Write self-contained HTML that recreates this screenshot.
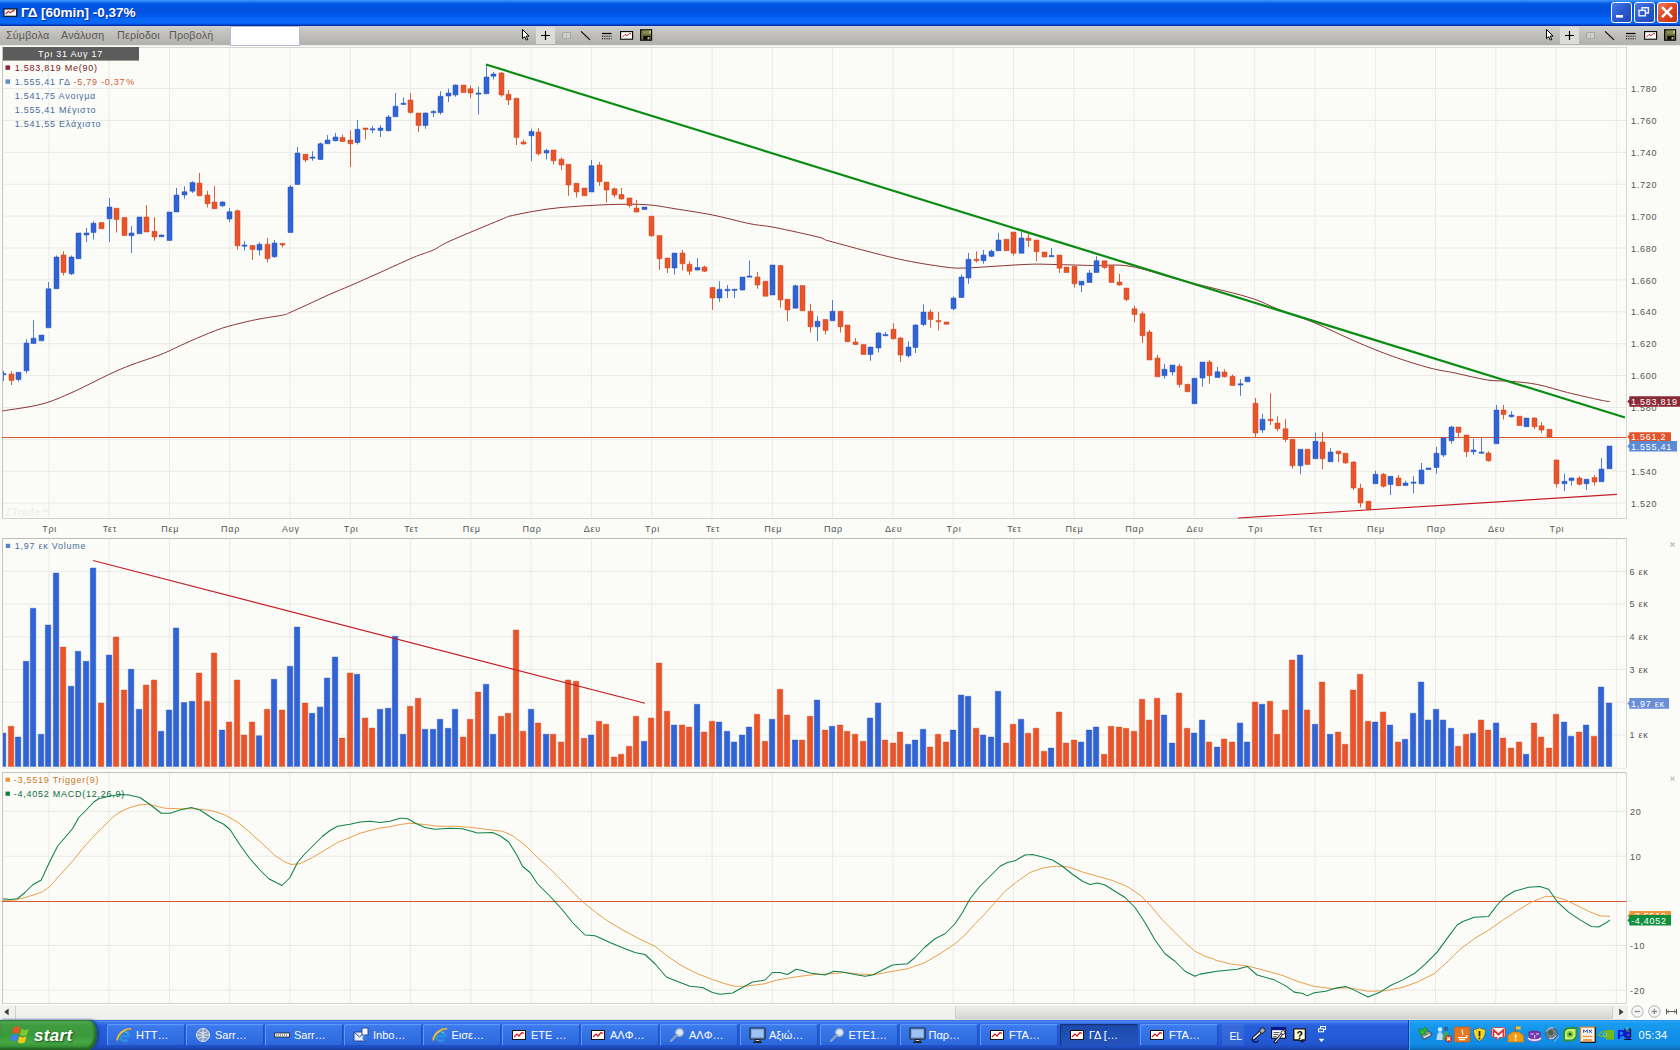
<!DOCTYPE html>
<html lang="el"><head><meta charset="utf-8"><title>ΓΔ [60min] -0,37%</title>
<style>
html,body{margin:0;padding:0}
body{width:1680px;height:1050px;overflow:hidden;position:relative;background:#fbfbf8;font-family:"Liberation Sans","DejaVu Sans",sans-serif}
.abs{position:absolute}
#title{left:0;top:0;width:1680px;height:26px;background:linear-gradient(#3c98fc 0,#2e84f6 5%,#0c62ea 11%,#0055e3 18%,#0052e0 48%,#005cf0 62%,#0868fa 76%,#0769fa 89%,#0452da 93%,#0232ac 97%,#0230a8 100%)}
#title .txt{left:21px;top:4px;color:#fff;font-weight:bold;font-size:13.600px;letter-spacing:-.050px;line-height:18px;white-space:nowrap;text-shadow:1px 1px 0 #0a2c8c}
.tb{top:2px;width:21px;height:21px;box-sizing:border-box;border:1px solid #fff;border-radius:3px;background:linear-gradient(135deg,#4a7ae8,#2a58d0 50%,#2048b8)}
#menu{left:0;top:26px;width:1680px;height:20px;background:linear-gradient(#d2d2dc 0,#cbcbcc 6%,#c4c3c1 30%,#bdbbb7 55%,#b4b2ae 92%,#b8b7b3 95%,#e9e9e7 96%,#e9e9e7 100%);box-sizing:border-box}
#menu span{position:absolute;top:2px;font-size:10.700px;line-height:14px;color:#595959;letter-spacing:.2px;white-space:nowrap}
#inp{left:230px;top:26px;width:70px;height:20px;background:#fff;border:1px solid #b4bcd4;box-sizing:border-box}
#scroll{left:0;top:1005px;width:1680px;height:15px;background:#fbfbf8}
#taskbar{left:0;top:1020px;width:1680px;height:30px;background:linear-gradient(#3168d5 0,#4c8af2 4%,#3a76ea 9%,#2860dc 18%,#245cd8 50%,#2256d0 80%,#1c48b8 94%,#16389a 100%)}
.ti{top:4px;width:78px;height:22px;border-radius:2px;background:linear-gradient(#4a8af4 0,#3a78ec 12%,#3270e4 60%,#2c66d8 100%);box-shadow:inset 1px 1px 0 #5c98f8,inset -1px -1px 0 #2050c0;color:#fff;font-size:11px;line-height:23px;white-space:nowrap;overflow:hidden}
.ti.act{background:linear-gradient(#1c48a8,#2050b4 50%,#2454bc);box-shadow:inset 1px 1px 1px #12306c}
.ti span{position:absolute;left:29px;top:0}
.ti svg{position:absolute;left:9px;top:3px}
#start{left:0;top:0;width:97px;height:30px;border-radius:0 9px 9px 0/0 14px 16px 0;background:linear-gradient(#2e7a2e 0,#4ea84e 7%,#3f9c3f 18%,#3c983c 50%,#44a844 74%,#3a983a 88%,#2c7a2c 100%);box-shadow:inset -2px -2px 3px #1e601e,2px 0 3px #1a3c90}
#start span{position:absolute;left:34px;top:5px;color:#fff;font-style:italic;font-weight:bold;font-size:17px;line-height:22px;text-shadow:1px 1px 2px #1a4a1a;letter-spacing:.3px}
#tray{left:1408px;top:0;width:272px;height:30px;background:linear-gradient(#1a88e0 0,#2aa4f6 5%,#189cf0 12%,#1290e8 50%,#108ce4 80%,#0e78cc 94%,#0c60a8 100%);border-left:1px solid #0a3c98;box-sizing:border-box;box-shadow:inset 1px 0 0 #3ab4fa}
#clock{left:1638.500px;top:8px;color:#fff;font-size:11px;line-height:14px;letter-spacing:.3px}
svg text{font-family:"Liberation Sans","DejaVu Sans",sans-serif}
</style></head><body>
<svg class="abs" style="left:0;top:0" width="1680" height="1050" viewBox="0 0 1680 1050">
<path d="M48.86 46V518.5M109.15 46V518.5M169.44 46V518.5M229.73 46V518.5M290.02 46V518.5M350.31 46V518.5M410.6 46V518.5M470.89 46V518.5M531.18 46V518.5M591.47 46V518.5M651.76 46V518.5M712.05 46V518.5M772.34 46V518.5M832.63 46V518.5M892.92 46V518.5M953.21 46V518.5M1013.5 46V518.5M1073.79 46V518.5M1134.08 46V518.5M1194.37 46V518.5M1254.66 46V518.5M1314.95 46V518.5M1375.24 46V518.5M1435.53 46V518.5M1495.82 46V518.5M1556.11 46V518.5M1616.4 46V518.5M2 88.57H1626.5M2 120.46H1626.5M2 152.35H1626.5M2 184.24H1626.5M2 216.13H1626.5M2 248.02H1626.5M2 279.91H1626.5M2 311.8H1626.5M2 343.69H1626.5M2 375.58H1626.5M2 407.47H1626.5M2 439.36H1626.5M2 471.25H1626.5M2 503.14H1626.5" stroke="#eaeae6" stroke-width="1" fill="none"/>
<path d="M48.86 538.5V767.5M109.15 538.5V767.5M169.44 538.5V767.5M229.73 538.5V767.5M290.02 538.5V767.5M350.31 538.5V767.5M410.6 538.5V767.5M470.89 538.5V767.5M531.18 538.5V767.5M591.47 538.5V767.5M651.76 538.5V767.5M712.05 538.5V767.5M772.34 538.5V767.5M832.63 538.5V767.5M892.92 538.5V767.5M953.21 538.5V767.5M1013.5 538.5V767.5M1073.79 538.5V767.5M1134.08 538.5V767.5M1194.37 538.5V767.5M1254.66 538.5V767.5M1314.95 538.5V767.5M1375.24 538.5V767.5M1435.53 538.5V767.5M1495.82 538.5V767.5M1556.11 538.5V767.5M1616.4 538.5V767.5M2 735H1626.5M2 702.25H1626.5M2 669.5H1626.5M2 636.75H1626.5M2 604H1626.5M2 571.25H1626.5" stroke="#eaeae6" stroke-width="1" fill="none"/>
<path d="M48.86 772.5V1003.5M109.15 772.5V1003.5M169.44 772.5V1003.5M229.73 772.5V1003.5M290.02 772.5V1003.5M350.31 772.5V1003.5M410.6 772.5V1003.5M470.89 772.5V1003.5M531.18 772.5V1003.5M591.47 772.5V1003.5M651.76 772.5V1003.5M712.05 772.5V1003.5M772.34 772.5V1003.5M832.63 772.5V1003.5M892.92 772.5V1003.5M953.21 772.5V1003.5M1013.5 772.5V1003.5M1073.79 772.5V1003.5M1134.08 772.5V1003.5M1194.37 772.5V1003.5M1254.66 772.5V1003.5M1314.95 772.5V1003.5M1375.24 772.5V1003.5M1435.53 772.5V1003.5M1495.82 772.5V1003.5M1556.11 772.5V1003.5M1616.4 772.5V1003.5M2 811.25H1626.5M2 856.25H1626.5M2 945.5H1626.5M2 990H1626.5" stroke="#eaeae6" stroke-width="1" fill="none"/>
<path d="M2 47.5H1626.5" stroke="#d8d8d4" stroke-width="1" fill="none"/>
<path d="M2.5 46V518.5M2.5 538.5V767.5M2.5 772.5V1003.5" stroke="#c4c4c0" stroke-width="1" fill="none"/>
<path d="M2 518.5H1626.5" stroke="#d0d0cc" stroke-width="1" fill="none"/>
<path d="M2 538.5H1626.5" stroke="#bcbcb8" stroke-width="1" fill="none"/>
<path d="M2 768.5H1626.5" stroke="#ededea" stroke-width="1" fill="none"/>
<path d="M2 772.5H1626.5" stroke="#c2c2be" stroke-width="1" fill="none"/>
<path d="M2 1003.5H1626.5" stroke="#d6d6d2" stroke-width="1" fill="none"/>
<path d="M1626.5 46V518.5M1626.5 538.5V767.5M1626.5 772.5V1003.5" stroke="#d6d6d2" stroke-width="1" fill="none"/>
<path d="M2 437.5H1626.5" stroke="#d9582c" stroke-width="1.2" fill="none"/>
<path d="M2.3 411C8.92 409.83 30.22 407.17 42 404C53.78 400.83 60 397.77 73 392C86 386.23 105.5 375.6 120 369.4C134.5 363.2 150 358.73 160 354.8C170 350.87 173.88 348.55 180 345.8C186.12 343.05 189.75 341.22 196.7 338.3C203.65 335.38 213.37 331.07 221.7 328.3C230.03 325.53 239.77 323.37 246.7 321.7C253.63 320.03 257.2 319.42 263.3 318.3C269.4 317.18 278.85 315.97 283.3 315C287.75 314.03 286.1 314.17 290 312.5C293.9 310.83 300.03 308.05 306.7 305C313.37 301.95 322.78 297.4 330 294.2C337.22 291 341.67 289.42 350 285.8C358.33 282.18 369.45 277.22 380 272.5C390.55 267.78 404.42 261.25 413.3 257.5C422.18 253.75 427.18 252.75 433.3 250C439.42 247.25 438.88 246 450 241C461.12 236 489.58 224.25 500 220C510.42 215.75 504.17 217.38 512.5 215.5C520.83 213.62 537.08 210.42 550 208.75C562.92 207.08 577.5 206.25 590 205.5C602.5 204.75 615 204.33 625 204.25C635 204.17 641.67 204.25 650 205C658.33 205.75 664.58 207.08 675 208.75C685.42 210.42 700 212.5 712.5 215C725 217.5 739.58 221.67 750 223.75C760.42 225.83 763.33 225.21 775 227.5C786.67 229.79 810.83 235.21 820 237.5C829.17 239.79 817.08 237.71 830 241.25C842.92 244.79 878.33 254.46 897.5 258.75C916.67 263.04 933.75 265.46 945 267C956.25 268.54 956.67 268.12 965 268C973.33 267.88 984.17 266.88 995 266.25C1005.83 265.62 1020 264.54 1030 264.25C1040 263.96 1044.58 264.29 1055 264.5C1065.42 264.71 1080 265.21 1092.5 265.5C1105 265.79 1115.42 263.83 1130 266.25C1144.58 268.67 1160.42 274.88 1180 280C1199.58 285.12 1230.83 292 1247.5 297C1264.17 302 1268.75 305.67 1280 310C1291.25 314.33 1302.5 317.79 1315 323C1327.5 328.21 1342.08 335.71 1355 341.25C1367.92 346.79 1380 351.79 1392.5 356.25C1405 360.71 1419.58 365.21 1430 368C1440.42 370.79 1445.42 371 1455 373C1464.58 375 1478.33 378.62 1487.5 380C1496.67 381.38 1501.67 380.5 1510 381.25C1518.33 382 1527.92 382.62 1537.5 384.5C1547.08 386.38 1557.08 389.92 1567.5 392.5C1577.92 395.08 1592.92 398.48 1600 400C1607.08 401.52 1608.33 401.33 1610 401.6" stroke="#8c3434" stroke-width="1" fill="none"/>
<clipPath id="cl"><rect x="3" y="40" width="1624" height="970"/></clipPath><g clip-path="url(#cl)">
<path d="M3.5 371V381M18.5 372.3V381.6M26.5 339.2V373.5M33.5 320.2V343.5M41.5 335V340.8M48.5 282V327.75M56.5 255.5V288.75M71.5 255.5V275M78.5 233V258.75M86.5 228V242M93.5 221.25V239.5M109.5 198V242M131.5 226.25V253M139.5 217V233.75M161.5 234.5V237M169.5 212V240.5M176.5 188V212M184.5 186.25V198.75M192.5 181.25V193M222.5 201.25V207M229.5 208V222M244.5 241.25V250.5M259.5 242.5V255.5M274.5 240V258M290.5 185V232.5M297.5 147V184.5M312.5 151.25V160.75M320.5 142.5V160M327.5 135V143.75M335.5 133V141.25M357.5 120V144.5M372.5 125.75V133M380.5 125V137M388.5 115V131.25M395.5 93V117M403.5 97.5V104.5M425.5 112.5V128.75M433.5 110V117M440.5 91.25V114.5M448.5 88.75V102M455.5 84.5V96.75M478.5 86.75V114.5M486.5 64.5V93.75M493.5 72V79.5M531.5 128.75V161.25M546.5 148.75V159.5M591.5 160V192M644.5 207V209.5M674.5 253V274.5M697.5 258V270.5M719.5 281.25V302M727.5 285V298M734.5 288.75V298M742.5 277V290.5M749.5 260.5V277M772.5 265V295M795.5 284.5V308.25M817.5 316.25V341.25M832.5 300V320.75M870.5 347V360.75M878.5 332V352.5M885.5 332V336.25M908.5 341.25V357.5M915.5 324.25V353M923.5 304.25V326.25M953.5 296.25V310.5M961.5 274.5V298M968.5 253V283.75M983.5 250V263.75M991.5 249.5V257M998.5 233V250.75M1021.5 232V253.25M1051.5 248V256.75M1081.5 281.25V292M1089.5 270V282.5M1096.5 256.25V272.5M1164.5 363.75V378.75M1172.5 365V375.5M1194.5 378.25V403.75M1202.5 362V386.75M1217.5 367V378M1240.5 379.25V395.75M1247.5 377V381.75M1262.5 413.75V433M1300.5 449.25V474.25M1315.5 432.5V458.75M1330.5 448.25V462M1375.5 470.75V483.75M1390.5 476.25V495M1405.5 480.75V485.5M1413.5 476.25V493.25M1421.5 463V484.5M1428.5 468V469.5M1436.5 446.75V473.75M1443.5 438V457M1451.5 425.75V443.75M1473.5 438.75V455M1481.5 437.5V453.75M1496.5 405V443.75M1511.5 411.25V417.5M1526.5 418V426.75M1564.5 473.75V491.25M1571.5 477.5V485.5M1586.5 479.25V490M1601.5 458V481.7M1609.5 446V468.8" stroke="#4f7ed0" stroke-width="1" fill="none"/>
<path d="M11.5 371.2V385M63.5 251.25V275.5M101.5 222.5V228.75M116.5 208.25V232.5M124.5 217.5V235.5M146.5 205V232M154.5 217V240.75M199.5 173V196.25M207.5 190.75V207.5M214.5 185.75V208.75M237.5 209.5V249.5M252.5 245V260M267.5 238V262.5M282.5 243V247.5M305.5 154.25V162M342.5 134.5V142M350.5 130.5V167M365.5 128V139.5M410.5 93V113.75M418.5 113V132M463.5 85V92.5M470.5 85.5V98M501.5 72V96.75M508.5 90V105M516.5 98.25V145M523.5 139.5V144.5M538.5 128.25V155.5M553.5 150V164.5M561.5 157.5V170M568.5 164.25V195.75M576.5 183.25V197.5M584.5 188V195.75M599.5 162V185.75M606.5 182V202.5M614.5 187.5V197.5M621.5 188V199.5M629.5 197.5V207.5M636.5 200V212.5M651.5 216.25V237M659.5 235.5V270M667.5 258V273M682.5 250V270.5M689.5 261.25V275M704.5 265.5V272M712.5 287.5V310M757.5 272V288.75M765.5 281.25V296.25M780.5 265V307.5M787.5 299.25V321.25M802.5 285.5V310.75M810.5 303.75V332.5M825.5 319.5V334.5M840.5 311.25V332.5M847.5 325V341.75M855.5 338V345M863.5 344.5V354.5M893.5 323.25V339.5M900.5 337V362M930.5 309.5V327.5M938.5 312V330.5M946.5 322V324.25M976.5 251.25V262.5M1006.5 239.25V250.75M1013.5 232V255.5M1028.5 233.75V247M1036.5 240V261.25M1044.5 252V257M1059.5 255V273M1066.5 267V272.5M1074.5 266.25V287.5M1104.5 260.75V268.75M1111.5 265.5V282.5M1119.5 273.75V285.75M1126.5 288V301.25M1134.5 305.75V322M1142.5 311.25V343M1149.5 330V360M1157.5 355V376.75M1179.5 363.75V387.5M1187.5 384.25V391.75M1209.5 360V383.75M1224.5 369.25V377.5M1232.5 374.5V385.75M1255.5 398V437M1270.5 393.25V425M1277.5 416.25V431.25M1285.5 419.25V442M1292.5 439.25V468.75M1307.5 449.25V464.5M1322.5 432V469.25M1338.5 450.5V462M1345.5 453.25V463.75M1353.5 461.25V490M1360.5 483.75V507.5M1368.5 501.25V509.25M1383.5 473V487.5M1398.5 475V486.25M1458.5 427V437M1466.5 435V457M1488.5 451.25V461.75M1503.5 405V419.5M1519.5 416.25V425.5M1534.5 417V429.25M1541.5 422V433M1549.5 429.25V437M1556.5 459.5V487.5M1579.5 476.25V485.5M1594.5 475V485.5" stroke="#d8603a" stroke-width="1" fill="none"/>
<path d="M1 373.5h5v1.2h-5zM16 372.3h5v7.3h-5zM24 343h5v27.8h-5zM31 338.2h5v5.3h-5zM39 335h5v5.8h-5zM46 288.75h5v39h-5zM54 257h5v31.75h-5zM69 257h5v16.75h-5zM76 233h5v25.75h-5zM84 233h5v2h-5zM91 223.25h5v9.25h-5zM107 207h5v11.75h-5zM129 233h5v2.75h-5zM137 217h5v16.75h-5zM159 235h5v1.75h-5zM167 212h5v28.5h-5zM174 195h5v17h-5zM182 191.75h5v3.25h-5zM190 182.5h5v8.75h-5zM220 202h5v3.75h-5zM227 211.75h5v7.25h-5zM242 245h5v1.25h-5zM257 244.25h5v5.75h-5zM272 243h5v13.75h-5zM288 187h5v45.5h-5zM295 153h5v31.5h-5zM310 157h5v1.25h-5zM318 143.75h5v15.75h-5zM325 140h5v3.75h-5zM333 137h5v3.75h-5zM355 129.25h5v13.25h-5zM370 128.75h5v1.2h-5zM378 128h5v2.5h-5zM386 117h5v13.75h-5zM393 106.25h5v10.5h-5zM401 103.25h5v1.2h-5zM423 113h5v12.5h-5zM431 111.5h5v1.25h-5zM438 96.25h5v16.25h-5zM446 93h5v3h-5zM453 85h5v10h-5zM476 93h5v1.2h-5zM484 77h5v16.75h-5zM491 74h5v2.25h-5zM529 131.5h5v4.25h-5zM544 150.5h5v2.5h-5zM589 165.75h5v26.25h-5zM642 207h5v2.5h-5zM672 253h5v15h-5zM695 267.5h5v2.5h-5zM717 289.25h5v8.75h-5zM725 289.25h5v1.5h-5zM732 289.25h5v1.2h-5zM740 277h5v13h-5zM747 276h5v1.2h-5zM770 265h5v30h-5zM793 285.75h5v22.5h-5zM815 321.25h5v5.5h-5zM830 311.25h5v9.5h-5zM868 347h5v7.5h-5zM876 333h5v15h-5zM883 334.5h5v1.25h-5zM906 347h5v8.75h-5zM913 325h5v22.5h-5zM921 312h5v12.5h-5zM951 298h5v10.75h-5zM959 277h5v20.5h-5zM966 259.25h5v18.75h-5zM981 255h5v5.75h-5zM989 251.25h5v5h-5zM996 240h5v10.75h-5zM1019 238h5v15.25h-5zM1049 255.5h5v1.25h-5zM1079 281.25h5v3.75h-5zM1087 273h5v9.5h-5zM1094 260.75h5v11.75h-5zM1162 369.25h5v6.5h-5zM1170 365h5v7h-5zM1192 378.25h5v25.5h-5zM1200 362h5v16h-5zM1215 371.75h5v5.75h-5zM1238 383.75h5v1.25h-5zM1245 377h5v4.75h-5zM1260 419.25h5v10.75h-5zM1298 449.25h5v16.5h-5zM1313 441.25h5v17.5h-5zM1328 452h5v9.75h-5zM1373 474.25h5v9.5h-5zM1388 476.25h5v8.25h-5zM1403 483h5v2.5h-5zM1411 482h5v1.2h-5zM1419 470h5v13.75h-5zM1426 468h5v1.5h-5zM1434 453.25h5v14.25h-5zM1441 438h5v17h-5zM1449 427h5v13.75h-5zM1471 450h5v1.75h-5zM1479 452h5v1.2h-5zM1494 410h5v33.75h-5zM1509 415h5v1.75h-5zM1524 418h5v8.75h-5zM1562 481.25h5v2.5h-5zM1569 478h5v2.5h-5zM1584 479.25h5v4.5h-5zM1599 469h5v12.7h-5zM1607 446h5v22.8h-5z" fill="#2f63d6" stroke="#2a55b8" stroke-width=".5"/>
<path d="M9 374h5v6.4h-5zM61 255h5v17.5h-5zM99 222.5h5v6.25h-5zM114 208.25h5v11.25h-5zM122 217.5h5v18h-5zM144 217h5v15h-5zM152 231.25h5v5.75h-5zM197 183h5v12.75h-5zM205 195h5v8.75h-5zM212 202h5v6.75h-5zM235 210.75h5v35h-5zM250 245.5h5v4h-5zM265 244.25h5v14.5h-5zM280 243.5h5v1.5h-5zM303 154.25h5v5.75h-5zM340 137.5h5v4h-5zM348 140h5v3.75h-5zM363 128h5v1.5h-5zM408 100h5v12.5h-5zM416 113h5v12.5h-5zM461 85h5v7.5h-5zM468 88.75h5v4.25h-5zM499 73h5v22h-5zM506 94.25h5v5.75h-5zM514 98.25h5v39.25h-5zM521 142h5v2h-5zM536 132h5v21.75h-5zM551 150h5v10.75h-5zM559 159.25h5v5.75h-5zM566 164.25h5v20.75h-5zM574 183.25h5v8.75h-5zM582 188h5v7.75h-5zM597 165h5v16.75h-5zM604 182h5v8h-5zM612 188.75h5v6.25h-5zM619 194.5h5v4.5h-5zM627 198h5v7.5h-5zM634 208h5v4h-5zM649 216.25h5v19.5h-5zM657 235.5h5v23.25h-5zM665 258h5v10h-5zM680 253h5v10.75h-5zM687 264.25h5v7h-5zM702 267h5v4.25h-5zM710 287.5h5v10.5h-5zM755 277h5v8h-5zM763 281.25h5v15h-5zM778 265.5h5v34.5h-5zM785 299.25h5v10.75h-5zM800 285.5h5v25.25h-5zM808 311.25h5v15.5h-5zM823 319.5h5v11h-5zM838 311.25h5v15.5h-5zM845 325h5v16.75h-5zM853 342h5v2.5h-5zM861 344.5h5v10h-5zM891 329.25h5v9.5h-5zM898 338h5v17h-5zM928 312h5v7.5h-5zM936 320.5h5v1.25h-5zM944 322h5v2.25h-5zM974 259.25h5v1.5h-5zM1004 239.25h5v11.5h-5zM1011 232h5v21.25h-5zM1026 238.25h5v2.25h-5zM1034 240h5v11.75h-5zM1042 252h5v5h-5zM1057 255h5v13.25h-5zM1064 267h5v5.5h-5zM1072 266.25h5v17.5h-5zM1102 260.75h5v6.75h-5zM1109 265.5h5v17h-5zM1117 282h5v3h-5zM1124 288h5v11.5h-5zM1132 308.75h5v5.75h-5zM1140 313.75h5v22h-5zM1147 332h5v28h-5zM1155 358h5v18.75h-5zM1177 366.25h5v18.25h-5zM1185 384.25h5v7.5h-5zM1207 362h5v13.75h-5zM1222 372h5v4.75h-5zM1230 376.25h5v9.25h-5zM1253 403.25h5v29.75h-5zM1268 419.25h5v1.5h-5zM1275 423h5v5.75h-5zM1283 428.75h5v10.75h-5zM1290 439.25h5v26.5h-5zM1305 449.25h5v15.25h-5zM1320 442h5v16.75h-5zM1336 451.25h5v2.5h-5zM1343 453.25h5v9.75h-5zM1351 462h5v26h-5zM1358 488.25h5v14.75h-5zM1366 501.25h5v8h-5zM1381 474.25h5v12h-5zM1396 478h5v7.75h-5zM1456 427h5v5.5h-5zM1464 435h5v16.75h-5zM1486 453h5v7.75h-5zM1501 410h5v4.5h-5zM1517 416.25h5v9.25h-5zM1532 418h5v8.75h-5zM1539 425.75h5v4.25h-5zM1547 429.25h5v7.75h-5zM1554 460h5v23.75h-5zM1577 478h5v6.25h-5zM1592 477.5h5v4.5h-5z" fill="#e9542b" stroke="#cf4a22" stroke-width=".5"/>
</g>
<path d="M486 64.5L1625 417.5" stroke="#0a8c12" stroke-width="2.2" fill="none"/>
<path d="M1238 518L1617 494.4" stroke="#c41e26" stroke-width="1.15" fill="none"/>
<g clip-path="url(#cl)">
<path d="M0.3 733h5.5V766.6h-5.5zM15.3 737h5.5V766.6h-5.5zM23.3 661.25h5.5V766.6h-5.5zM30.3 608.25h5.5V766.6h-5.5zM38.3 734.25h5.5V766.6h-5.5zM45.3 625h5.5V766.6h-5.5zM53.3 573h5.5V766.6h-5.5zM68.3 686.25h5.5V766.6h-5.5zM75.3 651.25h5.5V766.6h-5.5zM83.3 661.25h5.5V766.6h-5.5zM90.3 568h5.5V766.6h-5.5zM106.3 655h5.5V766.6h-5.5zM128.3 669.25h5.5V766.6h-5.5zM136.3 709.25h5.5V766.6h-5.5zM158.3 731.25h5.5V766.6h-5.5zM166.3 710h5.5V766.6h-5.5zM173.3 628h5.5V766.6h-5.5zM181.3 702.5h5.5V766.6h-5.5zM189.3 701.25h5.5V766.6h-5.5zM219.3 730h5.5V766.6h-5.5zM256.3 735.75h5.5V766.6h-5.5zM271.3 679.25h5.5V766.6h-5.5zM287.3 666.25h5.5V766.6h-5.5zM294.3 627h5.5V766.6h-5.5zM309.3 713.25h5.5V766.6h-5.5zM317.3 707h5.5V766.6h-5.5zM324.3 678h5.5V766.6h-5.5zM332.3 657h5.5V766.6h-5.5zM354.3 674.25h5.5V766.6h-5.5zM377.3 709.25h5.5V766.6h-5.5zM385.3 708.25h5.5V766.6h-5.5zM392.3 636.25h5.5V766.6h-5.5zM400.3 734.25h5.5V766.6h-5.5zM422.3 729.25h5.5V766.6h-5.5zM430.3 729.25h5.5V766.6h-5.5zM437.3 719.25h5.5V766.6h-5.5zM445.3 728.25h5.5V766.6h-5.5zM452.3 709.25h5.5V766.6h-5.5zM483.3 684.25h5.5V766.6h-5.5zM490.3 734.25h5.5V766.6h-5.5zM528.3 709.25h5.5V766.6h-5.5zM543.3 734.25h5.5V766.6h-5.5zM588.3 735h5.5V766.6h-5.5zM641.3 741.25h5.5V766.6h-5.5zM671.3 725h5.5V766.6h-5.5zM694.3 704.25h5.5V766.6h-5.5zM716.3 722h5.5V766.6h-5.5zM724.3 731.25h5.5V766.6h-5.5zM731.3 742h5.5V766.6h-5.5zM739.3 735h5.5V766.6h-5.5zM746.3 727h5.5V766.6h-5.5zM769.3 719.25h5.5V766.6h-5.5zM792.3 740h5.5V766.6h-5.5zM814.3 700h5.5V766.6h-5.5zM829.3 726.25h5.5V766.6h-5.5zM867.3 718h5.5V766.6h-5.5zM875.3 703h5.5V766.6h-5.5zM905.3 744.25h5.5V766.6h-5.5zM912.3 740h5.5V766.6h-5.5zM920.3 729.25h5.5V766.6h-5.5zM950.3 730h5.5V766.6h-5.5zM958.3 695h5.5V766.6h-5.5zM965.3 696.25h5.5V766.6h-5.5zM980.3 735h5.5V766.6h-5.5zM988.3 737h5.5V766.6h-5.5zM995.3 691.25h5.5V766.6h-5.5zM1018.3 719.25h5.5V766.6h-5.5zM1048.3 748h5.5V766.6h-5.5zM1078.3 742h5.5V766.6h-5.5zM1086.3 730h5.5V766.6h-5.5zM1093.3 727h5.5V766.6h-5.5zM1161.3 715h5.5V766.6h-5.5zM1169.3 743h5.5V766.6h-5.5zM1191.3 733h5.5V766.6h-5.5zM1199.3 720h5.5V766.6h-5.5zM1214.3 747h5.5V766.6h-5.5zM1237.3 723h5.5V766.6h-5.5zM1244.3 742h5.5V766.6h-5.5zM1259.3 704.25h5.5V766.6h-5.5zM1297.3 655h5.5V766.6h-5.5zM1312.3 724.25h5.5V766.6h-5.5zM1327.3 734.25h5.5V766.6h-5.5zM1372.3 722h5.5V766.6h-5.5zM1387.3 725h5.5V766.6h-5.5zM1402.3 739.25h5.5V766.6h-5.5zM1410.3 713.25h5.5V766.6h-5.5zM1418.3 682h5.5V766.6h-5.5zM1425.3 720h5.5V766.6h-5.5zM1433.3 709.25h5.5V766.6h-5.5zM1440.3 720h5.5V766.6h-5.5zM1448.3 728.25h5.5V766.6h-5.5zM1470.3 733.25h5.5V766.6h-5.5zM1493.3 723h5.5V766.6h-5.5zM1523.3 754.25h5.5V766.6h-5.5zM1561.3 722h5.5V766.6h-5.5zM1568.3 736.25h5.5V766.6h-5.5zM1583.3 725h5.5V766.6h-5.5zM1598.3 687h5.5V766.6h-5.5zM1606.3 703h5.5V766.6h-5.5z" fill="#2f63d6" stroke="#2a55b8" stroke-width=".4"/>
<path d="M8.3 726.25h5.5V766.6h-5.5zM60.3 647h5.5V766.6h-5.5zM98.3 703h5.5V766.6h-5.5zM113.3 637h5.5V766.6h-5.5zM121.3 690h5.5V766.6h-5.5zM143.3 685h5.5V766.6h-5.5zM151.3 680h5.5V766.6h-5.5zM196.3 673h5.5V766.6h-5.5zM204.3 701.25h5.5V766.6h-5.5zM211.3 653h5.5V766.6h-5.5zM226.3 722h5.5V766.6h-5.5zM234.3 680h5.5V766.6h-5.5zM241.3 735h5.5V766.6h-5.5zM249.3 722h5.5V766.6h-5.5zM264.3 709.25h5.5V766.6h-5.5zM279.3 710h5.5V766.6h-5.5zM302.3 703h5.5V766.6h-5.5zM339.3 738h5.5V766.6h-5.5zM347.3 673h5.5V766.6h-5.5zM362.3 718h5.5V766.6h-5.5zM369.3 728h5.5V766.6h-5.5zM407.3 706.25h5.5V766.6h-5.5zM415.3 698.25h5.5V766.6h-5.5zM460.3 737h5.5V766.6h-5.5zM467.3 719.25h5.5V766.6h-5.5zM475.3 692h5.5V766.6h-5.5zM498.3 716.25h5.5V766.6h-5.5zM505.3 713.25h5.5V766.6h-5.5zM513.3 630h5.5V766.6h-5.5zM520.3 731.25h5.5V766.6h-5.5zM535.3 723h5.5V766.6h-5.5zM550.3 734.25h5.5V766.6h-5.5zM558.3 742h5.5V766.6h-5.5zM565.3 680h5.5V766.6h-5.5zM573.3 681.25h5.5V766.6h-5.5zM581.3 738.25h5.5V766.6h-5.5zM596.3 721.25h5.5V766.6h-5.5zM603.3 724.25h5.5V766.6h-5.5zM611.3 757h5.5V766.6h-5.5zM618.3 754.25h5.5V766.6h-5.5zM626.3 746.25h5.5V766.6h-5.5zM633.3 716.25h5.5V766.6h-5.5zM648.3 718h5.5V766.6h-5.5zM656.3 663h5.5V766.6h-5.5zM664.3 711.25h5.5V766.6h-5.5zM679.3 725h5.5V766.6h-5.5zM686.3 727h5.5V766.6h-5.5zM701.3 732h5.5V766.6h-5.5zM709.3 721.25h5.5V766.6h-5.5zM754.3 714.25h5.5V766.6h-5.5zM762.3 741.25h5.5V766.6h-5.5zM777.3 689.25h5.5V766.6h-5.5zM784.3 715h5.5V766.6h-5.5zM799.3 740h5.5V766.6h-5.5zM807.3 716.25h5.5V766.6h-5.5zM822.3 730h5.5V766.6h-5.5zM837.3 725h5.5V766.6h-5.5zM844.3 731.25h5.5V766.6h-5.5zM852.3 734.25h5.5V766.6h-5.5zM860.3 741.25h5.5V766.6h-5.5zM882.3 740h5.5V766.6h-5.5zM890.3 743h5.5V766.6h-5.5zM897.3 732h5.5V766.6h-5.5zM927.3 747h5.5V766.6h-5.5zM935.3 734.25h5.5V766.6h-5.5zM943.3 742h5.5V766.6h-5.5zM973.3 728.25h5.5V766.6h-5.5zM1003.3 743h5.5V766.6h-5.5zM1010.3 724.25h5.5V766.6h-5.5zM1025.3 733.25h5.5V766.6h-5.5zM1033.3 728.25h5.5V766.6h-5.5zM1041.3 751.25h5.5V766.6h-5.5zM1056.3 712h5.5V766.6h-5.5zM1063.3 743h5.5V766.6h-5.5zM1071.3 740h5.5V766.6h-5.5zM1101.3 754.25h5.5V766.6h-5.5zM1108.3 726.25h5.5V766.6h-5.5zM1116.3 727h5.5V766.6h-5.5zM1123.3 728.25h5.5V766.6h-5.5zM1131.3 731.25h5.5V766.6h-5.5zM1139.3 699.25h5.5V766.6h-5.5zM1146.3 720h5.5V766.6h-5.5zM1154.3 698.25h5.5V766.6h-5.5zM1176.3 693h5.5V766.6h-5.5zM1184.3 728.25h5.5V766.6h-5.5zM1206.3 742h5.5V766.6h-5.5zM1221.3 739h5.5V766.6h-5.5zM1229.3 742h5.5V766.6h-5.5zM1252.3 702h5.5V766.6h-5.5zM1267.3 701.25h5.5V766.6h-5.5zM1274.3 734.25h5.5V766.6h-5.5zM1282.3 710h5.5V766.6h-5.5zM1289.3 660h5.5V766.6h-5.5zM1304.3 710h5.5V766.6h-5.5zM1319.3 682h5.5V766.6h-5.5zM1335.3 732h5.5V766.6h-5.5zM1342.3 744.25h5.5V766.6h-5.5zM1350.3 690h5.5V766.6h-5.5zM1357.3 674.25h5.5V766.6h-5.5zM1365.3 721.25h5.5V766.6h-5.5zM1380.3 712h5.5V766.6h-5.5zM1395.3 742h5.5V766.6h-5.5zM1455.3 746.25h5.5V766.6h-5.5zM1463.3 734.25h5.5V766.6h-5.5zM1478.3 720h5.5V766.6h-5.5zM1485.3 730h5.5V766.6h-5.5zM1500.3 738h5.5V766.6h-5.5zM1508.3 748h5.5V766.6h-5.5zM1516.3 742h5.5V766.6h-5.5zM1531.3 723h5.5V766.6h-5.5zM1538.3 737h5.5V766.6h-5.5zM1546.3 748h5.5V766.6h-5.5zM1553.3 714.25h5.5V766.6h-5.5zM1576.3 732h5.5V766.6h-5.5zM1591.3 736.25h5.5V766.6h-5.5z" fill="#e9542b" stroke="#cf4a22" stroke-width=".4"/>
</g>
<path d="M93 560.5L645 703.3" stroke="#c41e26" stroke-width="1.15" fill="none"/>
<path d="M2 901.5H1626.5" stroke="#d9582c" stroke-width="1.2" fill="none"/>
<polyline points="3,900.5 15,900 25,897.5 35,894.5 42.5,891.75 50,886.25 60,875 72.5,861.25 82.5,848.75 92.5,837.5 102.5,827.5 112.5,817.5 120,812 130,807.5 138.75,805 147.5,804.25 155,805.75 165,808.25 180,808.75 195,808.75 212.5,810.75 225,815 237.5,822 250,832.5 262.5,843.75 275,855.5 285,862 291.25,864.5 300,863.75 312.5,857.5 325,850 337.5,842.5 350,837.5 360,833.25 370,830.5 380,828 390,826.75 400,824.5 410,823.25 425,824.5 437.5,826.25 455,826.25 472.5,827.5 487.5,829.5 502.5,831.25 512.5,835.75 525,845 537.5,857.5 550,868.75 562.5,881.25 575,894.5 585,903.75 597.5,913.75 610,922.5 625,931.25 640,939.25 655,946.25 667.5,956.25 682.5,966.25 697.5,973.75 712.5,979.5 725,983.75 735,986.25 745,986.25 755,985 765,983.75 775,980.5 787.5,978.25 800,976.25 815,974.5 830,973.75 845,972.5 860,974.25 875,974.5 890,971.75 907.5,968.75 925,962.5 940,953.75 955,943.75 965,935 975,923.75 985,913.75 995,902.5 1005,891.25 1017.5,881.25 1030,872.5 1042.5,868 1055,866.25 1067.5,866.75 1082.5,872 1097.5,876.25 1112.5,880.5 1127.5,886.75 1140,895 1150,905 1162.5,920 1175,932.5 1185,942.5 1195,951.25 1205,956.25 1214.29,959.29 1215,960 1231.43,964.14 1247.14,965.86 1265.71,970.71 1282.86,975.57 1297.14,981.29 1314.29,986.43 1331.43,988.43 1348.57,987.86 1368.57,991.29 1385.71,990.71 1402.86,987.29 1417.14,982.14 1434.29,973.57 1448.57,960.71 1460,949.29 1474.29,938.71 1488.57,930.14 1502.86,920.14 1517.14,910.71 1531.43,902.14 1545.71,896.43 1554.29,896.43 1565.71,900.14 1577.14,905.57 1588.57,911.29 1600,915.86 1610,916.43" stroke="#ea9a40" stroke-width="0.95" fill="none" stroke-linejoin="round"/>
<polyline points="3,898.75 10,899.5 17.5,898.75 25,892.5 32.5,885 41.25,880 48.75,863.75 57.5,846.25 65,837.5 72.5,828.75 78.75,817.5 86.25,810 93.75,802 98.75,798.75 110,796 120,794.5 128.75,795 140,797.5 150,804.5 161.25,813.25 170,813.25 180,810 191.25,807.5 200,810 215,820 223.75,824.25 230,829.5 240,845 250,858.75 260,870 268.75,878.75 282,885.5 290,877.5 297.5,862.5 303.75,855 312.5,846.25 322.5,836.25 330,830.5 337.5,826.25 350,824.25 360,822 370,821.25 380,822.5 390,821.25 400,818.25 402.5,818.25 407.5,818.75 410,820 415,823 425,827.5 435,829.25 450,828.25 462.5,828.75 477.5,833 492.5,832.5 500,835.75 508.75,842 517.5,856.25 522.5,866.25 530,872.5 537.5,883.75 550,896.25 562.5,910 572.5,922.5 585,935 595,935.75 610,942.5 625,948.75 635,952.5 645,954.5 655,963.75 666.25,977 675,980.5 690,986.25 702.5,987.5 712.5,992.5 720,994.25 732.5,993 742.5,987.5 752.5,982 765,980 772.5,972.5 780,972.5 787.5,974.5 796.25,969.25 802.5,970.5 810,973 825,975 833.75,971.25 842.5,972 855,974.5 865,976.25 872.5,975 882.5,970 892.5,965 907.5,963.75 915,957.5 925,947 935,938.75 945,933.75 955,923.75 962.5,912.5 970,898.75 980,886.25 990,876.25 1000,866.25 1007.5,862.5 1015,860.75 1025,855 1032.5,854.5 1042.5,857 1052.5,860 1062.5,866.25 1072.5,874.25 1082.5,881.25 1090,884.5 1097.5,883 1105,885 1115,891.25 1125,897.5 1135,907.5 1145,922.5 1155,940 1165,953.75 1175,961.25 1185,971.25 1195,976.25 1200,974.14 1217.14,971.29 1237.14,969.29 1247.14,966.43 1257.14,975 1274.29,979.86 1285.71,985.86 1294.29,992.14 1302.86,993.57 1307.14,995.86 1314.29,992.71 1325.71,991.29 1337.14,987.86 1345.71,986.43 1354.29,990.14 1368,997 1380,992.14 1391.43,985 1402.86,979.86 1414.29,973.57 1425.71,963.57 1437.14,952.14 1448.57,936.43 1457.14,925 1462.86,921.57 1474.29,917.29 1488.57,916.43 1497.14,905 1505.71,896.43 1514.29,891.29 1528.57,887.29 1540,886.43 1548.57,889.29 1557.14,901.57 1568.57,912.14 1580,919.86 1591.43,926.43 1598.57,927 1605.71,923 1610,920.14" stroke="#118249" stroke-width="1.05" fill="none" stroke-linejoin="round"/>
<text x="49.66" y="531.6" fill="#555" font-size="9" text-anchor="middle" letter-spacing="0.75">Τρι</text>
<text x="109.95" y="531.6" fill="#555" font-size="9" text-anchor="middle" letter-spacing="0.75">Τετ</text>
<text x="170.24" y="531.6" fill="#555" font-size="9" text-anchor="middle" letter-spacing="0.75">Πεμ</text>
<text x="230.53" y="531.6" fill="#555" font-size="9" text-anchor="middle" letter-spacing="0.75">Παρ</text>
<text x="290.82" y="531.6" fill="#555" font-size="9" text-anchor="middle" letter-spacing="0.75">Αυγ</text>
<text x="351.11" y="531.6" fill="#555" font-size="9" text-anchor="middle" letter-spacing="0.75">Τρι</text>
<text x="411.4" y="531.6" fill="#555" font-size="9" text-anchor="middle" letter-spacing="0.75">Τετ</text>
<text x="471.69" y="531.6" fill="#555" font-size="9" text-anchor="middle" letter-spacing="0.75">Πεμ</text>
<text x="531.98" y="531.6" fill="#555" font-size="9" text-anchor="middle" letter-spacing="0.75">Παρ</text>
<text x="592.27" y="531.6" fill="#555" font-size="9" text-anchor="middle" letter-spacing="0.75">Δευ</text>
<text x="652.56" y="531.6" fill="#555" font-size="9" text-anchor="middle" letter-spacing="0.75">Τρι</text>
<text x="712.85" y="531.6" fill="#555" font-size="9" text-anchor="middle" letter-spacing="0.75">Τετ</text>
<text x="773.14" y="531.6" fill="#555" font-size="9" text-anchor="middle" letter-spacing="0.75">Πεμ</text>
<text x="833.43" y="531.6" fill="#555" font-size="9" text-anchor="middle" letter-spacing="0.75">Παρ</text>
<text x="893.72" y="531.6" fill="#555" font-size="9" text-anchor="middle" letter-spacing="0.75">Δευ</text>
<text x="954.01" y="531.6" fill="#555" font-size="9" text-anchor="middle" letter-spacing="0.75">Τρι</text>
<text x="1014.3" y="531.6" fill="#555" font-size="9" text-anchor="middle" letter-spacing="0.75">Τετ</text>
<text x="1074.59" y="531.6" fill="#555" font-size="9" text-anchor="middle" letter-spacing="0.75">Πεμ</text>
<text x="1134.88" y="531.6" fill="#555" font-size="9" text-anchor="middle" letter-spacing="0.75">Παρ</text>
<text x="1195.17" y="531.6" fill="#555" font-size="9" text-anchor="middle" letter-spacing="0.75">Δευ</text>
<text x="1255.46" y="531.6" fill="#555" font-size="9" text-anchor="middle" letter-spacing="0.75">Τρι</text>
<text x="1315.75" y="531.6" fill="#555" font-size="9" text-anchor="middle" letter-spacing="0.75">Τετ</text>
<text x="1376.04" y="531.6" fill="#555" font-size="9" text-anchor="middle" letter-spacing="0.75">Πεμ</text>
<text x="1436.33" y="531.6" fill="#555" font-size="9" text-anchor="middle" letter-spacing="0.75">Παρ</text>
<text x="1496.62" y="531.6" fill="#555" font-size="9" text-anchor="middle" letter-spacing="0.75">Δευ</text>
<text x="1556.91" y="531.6" fill="#555" font-size="9" text-anchor="middle" letter-spacing="0.75">Τρι</text>
<text x="1631" y="92.17" fill="#555" font-size="9" text-anchor="start" letter-spacing="0.75">1.780</text>
<text x="1631" y="124.06" fill="#555" font-size="9" text-anchor="start" letter-spacing="0.75">1.760</text>
<text x="1631" y="155.95" fill="#555" font-size="9" text-anchor="start" letter-spacing="0.75">1.740</text>
<text x="1631" y="187.84" fill="#555" font-size="9" text-anchor="start" letter-spacing="0.75">1.720</text>
<text x="1631" y="219.73" fill="#555" font-size="9" text-anchor="start" letter-spacing="0.75">1.700</text>
<text x="1631" y="251.62" fill="#555" font-size="9" text-anchor="start" letter-spacing="0.75">1.680</text>
<text x="1631" y="283.51" fill="#555" font-size="9" text-anchor="start" letter-spacing="0.75">1.660</text>
<text x="1631" y="315.4" fill="#555" font-size="9" text-anchor="start" letter-spacing="0.75">1.640</text>
<text x="1631" y="347.29" fill="#555" font-size="9" text-anchor="start" letter-spacing="0.75">1.620</text>
<text x="1631" y="379.18" fill="#555" font-size="9" text-anchor="start" letter-spacing="0.75">1.600</text>
<text x="1631" y="411.07" fill="#555" font-size="9" text-anchor="start" letter-spacing="0.75">1.580</text>
<text x="1631" y="442.96" fill="#555" font-size="9" text-anchor="start" letter-spacing="0.75">1.560</text>
<text x="1631" y="474.85" fill="#555" font-size="9" text-anchor="start" letter-spacing="0.75">1.540</text>
<text x="1631" y="506.74" fill="#555" font-size="9" text-anchor="start" letter-spacing="0.75">1.520</text>
<text x="1629.5" y="738.4" fill="#555" font-size="9" text-anchor="start" letter-spacing="0.75">1 εκ</text>
<text x="1629.5" y="705.65" fill="#555" font-size="9" text-anchor="start" letter-spacing="0.75">2 εκ</text>
<text x="1629.5" y="672.9" fill="#555" font-size="9" text-anchor="start" letter-spacing="0.75">3 εκ</text>
<text x="1629.5" y="640.15" fill="#555" font-size="9" text-anchor="start" letter-spacing="0.75">4 εκ</text>
<text x="1629.5" y="607.4" fill="#555" font-size="9" text-anchor="start" letter-spacing="0.75">5 εκ</text>
<text x="1629.5" y="574.65" fill="#555" font-size="9" text-anchor="start" letter-spacing="0.75">6 εκ</text>
<text x="1630" y="814.85" fill="#555" font-size="9" text-anchor="start" letter-spacing="0.75">20</text>
<text x="1630" y="859.85" fill="#555" font-size="9" text-anchor="start" letter-spacing="0.75">10</text>
<text x="1630" y="949.1" fill="#555" font-size="9" text-anchor="start" letter-spacing="0.75">-10</text>
<text x="1630" y="993.6" fill="#555" font-size="9" text-anchor="start" letter-spacing="0.75">-20</text>
<path d="M1627.3 401.5L1629.3 399.3V396.2H1681V406.8H1629.3V403.7z" fill="#8b2a36"/>
<text x="1631" y="404.9" fill="#fff" font-size="9" text-anchor="start" letter-spacing="0.75">1.583,819</text>
<path d="M1627.3 436.8L1629.3 434.6V432.2H1671V441.4H1629.3V439z" fill="#e1532a"/>
<text x="1631" y="440.2" fill="#fff" font-size="9" text-anchor="start" letter-spacing="0.75">1.561,2</text>
<path d="M1627.3 446.3L1629.3 444.1V441H1677V451.6H1629.3V448.5z" fill="#5b8ad2"/>
<text x="1631" y="449.7" fill="#fff" font-size="9" text-anchor="start" letter-spacing="0.75">1.555,41</text>
<path d="M1627.3 703.4L1629.3 701.2V698H1669V708.8H1629.3V705.6z" fill="#6b8fd6"/>
<text x="1631" y="706.8" fill="#fff" font-size="9" text-anchor="start" letter-spacing="0.75">1,97 εκ</text>
<path d="M1627.3 916L1629.3 913.8V911H1671V921H1629.3V918.2z" fill="#e9963a"/>
<text x="1631" y="919.4" fill="#fff" font-size="9" text-anchor="start" letter-spacing="0.75">-3,5519</text>
<path d="M1627.3 920.3L1629.3 918.1V915H1671V925.6H1629.3V922.5z" fill="#10903f"/>
<text x="1631" y="923.7" fill="#fff" font-size="9" text-anchor="start" letter-spacing="0.75">-4,4052</text>
<path d="M1670.5 542.5l4 4m0 -4l-4 4" stroke="#bdbdbd" stroke-width="1.2" fill="none"/>
<path d="M1670.5 776.6l4 4m0 -4l-4 4" stroke="#bdbdbd" stroke-width="1.2" fill="none"/>
<rect x="3" y="47" width="136" height="13.6" fill="#5c5c5c"/>
<text x="70.5" y="57.4" fill="#fff" font-size="9" text-anchor="middle" letter-spacing="0.75">Τρι 31 Αυγ 17</text>
<rect x="5.5" y="65.4" width="4.6" height="4.4" fill="#8b2432"/>
<text x="14.8" y="70.9" fill="#7a1c1c" font-size="9" text-anchor="start" letter-spacing="0.75">1.583,819 Me(90)</text>
<rect x="5.5" y="79.4" width="4.6" height="4.4" fill="#5b8fc8"/>
<text x="14.8" y="84.8" fill="#4a6d98" font-size="9" text-anchor="start" letter-spacing="0.75">1.555,41 ΓΔ <tspan fill="#d25a32">-5,79 -0,37<tspan dx="1">%</tspan></tspan></text>
<text x="14.8" y="98.9" fill="#4a6d98" font-size="9" text-anchor="start" letter-spacing="0.75">1.541,75 Ανοιγμα</text>
<text x="14.8" y="112.9" fill="#4a6d98" font-size="9" text-anchor="start" letter-spacing="0.75">1.555,41 Μέγιστο</text>
<text x="14.8" y="126.8" fill="#4a6d98" font-size="9" text-anchor="start" letter-spacing="0.75">1.541,55 Ελάχιστο</text>
<text x="5" y="515.5" fill="#f0f0ec" font-size="10" text-anchor="start" letter-spacing="0.5" font-weight="bold">ZTrade™</text>
<rect x="5.8" y="543.8" width="4.4" height="4.2" fill="#5b7fc8"/>
<text x="14.8" y="548.8" fill="#4a6d98" font-size="9" text-anchor="start" letter-spacing="0.75">1,97 εκ Volume</text>
<rect x="5.5" y="777.6" width="4.4" height="4.2" fill="#e9963a"/>
<text x="13.8" y="783.2" fill="#c87a28" font-size="9" text-anchor="start" letter-spacing="0.75">-3,5519 Trigger(9)</text>
<rect x="5.5" y="791.6" width="4.4" height="4.2" fill="#10803f"/>
<text x="13.8" y="797.2" fill="#0f6d3a" font-size="9" text-anchor="start" letter-spacing="0.75">-4,4052 MACD(12,26,9)</text>
</svg>
<div id="title" class="abs">
<svg class="abs" style="left:3px;top:7.500px" width="15" height="10" viewBox="0 0 15 10"><rect x=".9" y=".9" width="12.800" height="7.400" fill="#fff" stroke="#111" stroke-width="1.200"/><path d="M2.600 6l2.800-2.600 2 1.400 2.800-2.300 1.500.7" stroke="#d01818" stroke-width="1.100" fill="none"/></svg>
<div class="abs txt">ΓΔ [60min] -0,37%</div>
<div class="abs tb" style="left:1611px"><svg width="19" height="19" viewBox="0 0 19 19"><rect x="4" y="12" width="7" height="2.6" fill="#fff"/></svg></div>
<div class="abs tb" style="left:1634px"><svg width="19" height="19" viewBox="0 0 19 19"><path d="M7 7V4.800h6.400v5.200h-2.400" stroke="#eef3ff" stroke-width="1.400" fill="none"/><rect x="4" y="7.400" width="6.400" height="5.400" fill="none" stroke="#eef3ff" stroke-width="1.400"/></svg></div>
<div class="abs tb" style="left:1657px;background:linear-gradient(135deg,#f08060,#e04a28 45%,#c03010)"><svg width="19" height="19" viewBox="0 0 19 19"><path d="M4 4.200l10 10m0-10l-10 10" stroke="#fff" stroke-width="2.4" fill="none"/></svg></div>
</div>
<div id="menu" class="abs"><span style="left:6px">Σύμβολα</span><span style="left:61px">Ανάλυση</span><span style="left:117px">Περίοδοι</span><span style="left:169px">Προβολή</span></div>
<div id="inp" class="abs"></div>
<svg class="abs" style="left:1540px;top:26px" width="140" height="20" viewBox="1540 26 140 20"><rect x="1560" y="27" width="19" height="17" fill="#dcdcda"/><path d="M1546.5 29.5v9.2l2.2-2 1.6 3.4 1.5-.7-1.6-3.3h2.9z" fill="#fff" stroke="#000" stroke-width="1" stroke-linejoin="miter"/><path d="M1565 35.5h9M1569.5 31v9" stroke="#000" stroke-width="1.2"/><rect x="1586.500" y="32.800" width="8" height="5.400" fill="#d8d8d8" stroke="#a4a4a4"/><path d="M1587 35.5h7M1590.5 33v5" stroke="#bcbcbc" stroke-width=".8"/><path d="M1605 31.3l9 8.5" stroke="#000" stroke-width="1.1"/><path d="M1626 33.5h9.5" stroke="#000" stroke-width="1.2"/><path d="M1626 36.2h9.5M1626 38.8h9.5" stroke="#000" stroke-width="1.1" stroke-dasharray="1.2 1"/><rect x="1644.6" y="31.6" width="12" height="7.6" fill="#fff" stroke="#000" stroke-width="1.1"/><path d="M1646.5 37l2.6-2.6 1.8 1.4 2.8-2.4 1.3.6" stroke="#d01818" stroke-width="1" fill="none"/><rect x="1664.600" y="29.800" width="11" height="10.400" fill="#727238" stroke="#000" stroke-width="1.100"/><rect x="1667" y="30.400" width="6" height="3.800" fill="#8a8a4a"/><rect x="1673.400" y="30.400" width="1.300" height="3.400" fill="#dcdcc0"/><rect x="1667.200" y="35.800" width="7" height="4" fill="#0c0c0c"/><rect x="1671.600" y="37" width="1.800" height="2.400" fill="#b8b890"/></svg>
<svg class="abs" style="left:516px;top:26px" width="140" height="20" viewBox="1540 26 140 20"><rect x="1560" y="27" width="19" height="17" fill="#dcdcda"/><path d="M1546.5 29.5v9.2l2.2-2 1.6 3.4 1.5-.7-1.6-3.3h2.9z" fill="#fff" stroke="#000" stroke-width="1" stroke-linejoin="miter"/><path d="M1565 35.5h9M1569.5 31v9" stroke="#000" stroke-width="1.2"/><rect x="1586.500" y="32.800" width="8" height="5.400" fill="#d8d8d8" stroke="#a4a4a4"/><path d="M1587 35.5h7M1590.5 33v5" stroke="#bcbcbc" stroke-width=".8"/><path d="M1605 31.3l9 8.5" stroke="#000" stroke-width="1.1"/><path d="M1626 33.5h9.5" stroke="#000" stroke-width="1.2"/><path d="M1626 36.2h9.5M1626 38.8h9.5" stroke="#000" stroke-width="1.1" stroke-dasharray="1.2 1"/><rect x="1644.6" y="31.6" width="12" height="7.6" fill="#fff" stroke="#000" stroke-width="1.1"/><path d="M1646.5 37l2.6-2.6 1.8 1.4 2.8-2.4 1.3.6" stroke="#d01818" stroke-width="1" fill="none"/><rect x="1664.600" y="29.800" width="11" height="10.400" fill="#727238" stroke="#000" stroke-width="1.100"/><rect x="1667" y="30.400" width="6" height="3.800" fill="#8a8a4a"/><rect x="1673.400" y="30.400" width="1.300" height="3.400" fill="#dcdcc0"/><rect x="1667.200" y="35.800" width="7" height="4" fill="#0c0c0c"/><rect x="1671.600" y="37" width="1.800" height="2.400" fill="#b8b890"/></svg>
<div id="scroll" class="abs">
<div class="abs" style="left:0;top:0;width:1626px;height:15px;background:linear-gradient(#f3f3f1,#eeeeec);border-top:1px solid #f6f6f4;border-bottom:1px solid #e0e0de;box-sizing:border-box"></div>
<div class="abs" style="left:955px;top:1px;width:657px;height:13px;background:linear-gradient(#ecece9,#e2e2df 50%,#d4d2cf);border-left:1px solid #d0d0cd"></div>
<div class="abs" style="left:0;top:1px;width:15px;height:13px;background:#f0f0ee;border-right:1px solid #cfcfcd"></div>
<div class="abs" style="left:1612px;top:1px;width:15px;height:13px;background:#f0f0ee;border-left:1px solid #cfcfcd"></div>
<svg class="abs" style="left:0;top:0" width="1680" height="16" viewBox="0 0 1680 16"><path d="M8.600 3.600v6.600l-4.400-3.300z" fill="#3c3c3c"/><path d="M1619.200 3.600v6.600l4.400-3.300z" fill="#3c3c3c"/><circle cx="1637.400" cy="6.500" r="5.700" fill="#f6f6f6" stroke="#b0b0b0" stroke-width="1"/><path d="M1634.600 6.500h5.600" stroke="#8c8c8c" stroke-width="1.300"/><circle cx="1654.400" cy="6.500" r="5.700" fill="#f6f6f6" stroke="#b0b0b0" stroke-width="1"/><path d="M1651.600 6.500h5.600M1654.400 3.700v5.600" stroke="#8c8c8c" stroke-width="1.300"/><path d="M1666.500 3.800v5.600M1676.500 3.800v5.600M1666.500 6.600h10" stroke="#5a5a5a" stroke-width="1" fill="none"/><path d="M1668.800 5.200l-1.600 1.400 1.600 1.400M1674.200 5.200l1.600 1.400-1.600 1.400" stroke="#5a5a5a" stroke-width=".8" fill="none"/></svg>
</div>
<div id="taskbar" class="abs">
<div id="start" class="abs"><svg class="abs" style="left:10px;top:5px" width="21" height="21" viewBox="0 0 21 21"><path d="M3.500 2.600c2.300-1.500 4.600-1.300 6.800.3L8.600 9C6.400 7.500 4.200 7.400 1.800 8.800z" fill="#e8562a"/><path d="M11.500 3.800c2.400 1.500 4.800 1.500 7.200-.1l-1.800 6.200c-2.300 1.500-4.700 1.500-7.100 0z" fill="#7cc832"/><path d="M1.400 10.200c2.300-1.400 4.600-1.300 6.800.2l-1.700 6c-2.200-1.500-4.500-1.600-6.800-.2z" fill="#3a84ea"/><path d="M9.400 11.300c2.400 1.500 4.800 1.500 7.100 0l-1.700 6c-2.300 1.500-4.700 1.500-7.100 0z" fill="#f6c81e"/></svg><span>start</span></div>
<div class="abs ti" style="left:107.0px"><svg width="17" height="17" viewBox="0 0 17 17"><path d="M12 12.400A4.800 4.800 0 1 1 13.400 9.200H5" fill="none" stroke="#2b8fe6" stroke-width="2.800" stroke-linejoin="round"/><path d="M5.200 6.500a3.800 3.800 0 0 1 6.600 0" fill="none" stroke="#8cd2fc" stroke-width="1"/><path d="M1.200 13.500C1.500 7 8.500 1.200 15.200 1.800" stroke="#f2c230" stroke-width="1.700" fill="none"/><path d="M1.600 14.500C3 9 8 3.500 14 2.800" stroke="#8a7a30" stroke-width=".6" fill="none"/></svg><span>HTT…</span></div>
<div class="abs ti" style="left:186.0px"><svg width="16" height="16" viewBox="0 0 16 16"><circle cx="8" cy="8" r="6.5" fill="#8898b8" stroke="#dfe6f4" stroke-width="1"/><path d="M2 8h12M8 2v12M3.5 4.5c3 2 6 2 9 0M3.5 11.5c3-2 6-2 9 0" stroke="#e8eef8" stroke-width="1" fill="none"/></svg><span>Sarr…</span></div>
<div class="abs ti" style="left:265.0px"><svg width="16" height="16" viewBox="0 0 16 16"><rect x="0.5" y="6" width="15" height="4" fill="#f4f4f4" stroke="#222" stroke-width=".8"/><path d="M2 8h12" stroke="#444" stroke-width="1" stroke-dasharray="1 1"/></svg><span>Sarr…</span></div>
<div class="abs ti" style="left:344.0px"><svg width="16" height="16" viewBox="0 0 16 16"><rect x="1" y="5" width="11" height="9" fill="#e8eef8" stroke="#28489a"/><path d="M1 5l5.5 5 5.5-5" stroke="#28489a" fill="none"/><rect x="9" y="1" width="6" height="7" fill="#f8f8ff" stroke="#28489a"/><circle cx="12" cy="11" r="2.5" fill="#3a78d8"/></svg><span>Inbo…</span></div>
<div class="abs ti" style="left:422.5px"><svg width="17" height="17" viewBox="0 0 17 17"><path d="M12 12.400A4.800 4.800 0 1 1 13.400 9.200H5" fill="none" stroke="#2b8fe6" stroke-width="2.800" stroke-linejoin="round"/><path d="M5.200 6.500a3.800 3.800 0 0 1 6.600 0" fill="none" stroke="#8cd2fc" stroke-width="1"/><path d="M1.200 13.500C1.500 7 8.500 1.200 15.200 1.800" stroke="#f2c230" stroke-width="1.700" fill="none"/><path d="M1.600 14.500C3 9 8 3.500 14 2.800" stroke="#8a7a30" stroke-width=".6" fill="none"/></svg><span>Εισε…</span></div>
<div class="abs ti" style="left:502.0px"><svg width="16" height="16" viewBox="0 0 16 16"><rect x="1.5" y="3.5" width="13" height="9" fill="#fff" stroke="#111"/><path d="M3 10l3-3 2 2 3-3.5 2 1" stroke="#d01818" stroke-width="1.2" fill="none"/></svg><span>ΕΤΕ …</span></div>
<div class="abs ti" style="left:581.0px"><svg width="16" height="16" viewBox="0 0 16 16"><rect x="1.5" y="3.5" width="13" height="9" fill="#fff" stroke="#111"/><path d="M3 10l3-3 2 2 3-3.5 2 1" stroke="#d01818" stroke-width="1.2" fill="none"/></svg><span>ΑΛΦ…</span></div>
<div class="abs ti" style="left:660.0px"><svg width="16" height="16" viewBox="0 0 16 16"><circle cx="10.5" cy="5.5" r="3.8" fill="#dfe8f4" stroke="#9ab0cc" stroke-width="1.4"/><path d="M7.8 8.2L2 14" stroke="#8aa0bc" stroke-width="2.4" stroke-linecap="round"/></svg><span>ΑΛΦ…</span></div>
<div class="abs ti" style="left:740.0px"><svg width="17" height="17" viewBox="0 0 17 17"><rect x="1" y="1" width="15" height="11" rx="1" fill="#7aa6e0" stroke="#223" stroke-width="1.2"/><rect x="3" y="3" width="11" height="7" fill="#9cc4f4"/><path d="M6 12.5h5v2h-5zM4 15.5h9" stroke="#222" stroke-width="1.2" fill="#ccc"/></svg><span>Αξιώ…</span></div>
<div class="abs ti" style="left:819.5px"><svg width="16" height="16" viewBox="0 0 16 16"><circle cx="10.5" cy="5.5" r="3.8" fill="#dfe8f4" stroke="#9ab0cc" stroke-width="1.4"/><path d="M7.8 8.2L2 14" stroke="#8aa0bc" stroke-width="2.4" stroke-linecap="round"/></svg><span>ΕΤΕ1…</span></div>
<div class="abs ti" style="left:899.5px"><svg width="17" height="17" viewBox="0 0 17 17"><rect x="1" y="1" width="15" height="11" rx="1" fill="#7aa6e0" stroke="#223" stroke-width="1.2"/><rect x="3" y="3" width="11" height="7" fill="#9cc4f4"/><path d="M6 12.5h5v2h-5zM4 15.5h9" stroke="#222" stroke-width="1.2" fill="#ccc"/></svg><span>Παρ…</span></div>
<div class="abs ti" style="left:980.0px"><svg width="16" height="16" viewBox="0 0 16 16"><rect x="1.5" y="3.5" width="13" height="9" fill="#fff" stroke="#111"/><path d="M3 10l3-3 2 2 3-3.5 2 1" stroke="#d01818" stroke-width="1.2" fill="none"/></svg><span>FTA…</span></div>
<div class="abs ti act" style="left:1060.0px"><svg width="16" height="16" viewBox="0 0 16 16"><rect x="1.5" y="3.5" width="13" height="9" fill="#fff" stroke="#111"/><path d="M3 10l3-3 2 2 3-3.5 2 1" stroke="#d01818" stroke-width="1.2" fill="none"/></svg><span>ΓΔ […</span></div>
<div class="abs ti" style="left:1140.0px"><svg width="16" height="16" viewBox="0 0 16 16"><rect x="1.5" y="3.5" width="13" height="9" fill="#fff" stroke="#111"/><path d="M3 10l3-3 2 2 3-3.5 2 1" stroke="#d01818" stroke-width="1.2" fill="none"/></svg><span>FTA…</span></div>
<div class="abs" style="left:1222px;top:4px;width:22px;height:22px;background:rgba(255,255,255,.07)"></div>
<div class="abs" style="left:1229.500px;top:9px;color:#fff;font-size:10.500px;line-height:14px;letter-spacing:-.300px">EL</div>
<svg class="abs" style="left:1248px;top:2px" width="90" height="26" viewBox="1248 1022 90 26"><path d="M1252.400 1039c-.4 3.400 4.200 4.200 6.200 1.600" stroke="#0a1450" stroke-width="1.200" fill="none"/><path d="M1253.400 1038.600l9.200-8.400" stroke="#15151c" stroke-width="3.600" stroke-linecap="round"/><path d="M1253.600 1038.400l8-7.300" stroke="#e6e6e6" stroke-width="1.700" stroke-linecap="round"/><ellipse cx="1262.400" cy="1030.600" rx="2.900" ry="2.500" transform="rotate(-42 1262.400 1030.600)" fill="#a8a8a8" stroke="#15151c" stroke-width=".9"/><rect x="1271.600" y="1027.600" width="14" height="10.600" fill="#fff" stroke="#0c0c14" stroke-width="1.100"/><rect x="1271.600" y="1027.200" width="14" height="3" fill="#0a1a8c"/><path d="M1273.500 1032.500h6M1273.500 1034.500h5M1273.500 1036.500h3" stroke="#444" stroke-width=".9"/><path d="M1275.200 1042l8-9.600" stroke="#15151c" stroke-width="2.800" stroke-linecap="round"/><path d="M1275.400 1041.800l7.600-9.200" stroke="#dcdcdc" stroke-width="1.200" stroke-linecap="round"/><circle cx="1283" cy="1032.600" r="2" fill="#eee" stroke="#15151c" stroke-width=".8"/><path d="M1274 1041.500c.5 1.600 3 1.600 3.800.2" stroke="#0a1450" stroke-width="1" fill="none"/><path d="M1293.800 1028.800h11.600v11.200h-3.400l.8 2.200-3.200-2.200h-5.800z" fill="#ffffdc" stroke="#0c0c14" stroke-width="1.300" stroke-linejoin="round"/><text x="1299.600" y="1038.600" font-size="10.500" font-weight="bold" text-anchor="middle" fill="#000">?</text><rect x="1320.500" y="1026.500" width="5" height="3" fill="none" stroke="#fff" stroke-width="1"/><rect x="1318.500" y="1028.800" width="5" height="3" fill="#2a5cd4" stroke="#fff" stroke-width="1"/><path d="M1318.800 1038.800h5.400l-2.700 3.400z" fill="#fff"/></svg>
<div id="tray" class="abs">
<svg class="abs" style="left:0;top:0" width="272" height="30" viewBox="1409 1020 272 30"><path d="M1423.500 1039.500l7.500-3.500 1-3-5-2.500-6 4.500z" fill="#8a96a4" stroke="#3a4452" stroke-width=".8"/><path d="M1424 1037.500l6-3" stroke="#e8eef4" stroke-width="1.200"/><path d="M1419 1028.500l3.500 1.200 3-2.400 2.400 1.800-3.400 3.600 2.200 1.400-6.700 1z" fill="#2fb62f" stroke="#1c7a1c" stroke-width=".6"/><circle cx="1440" cy="1029.500" r="2.200" fill="#dfeefa"/><path d="M1436.500 1040c0-5 1.500-8 3.500-8s3.500 3 3.500 8z" fill="#bcd8f0"/><circle cx="1446" cy="1028.800" r="2.400" fill="#2a6a9a"/><path d="M1442.500 1040c0-5.500 1.500-8.500 3.500-8.500s3.500 3 3.500 8.500z" fill="#3aa860"/><circle cx="1448.600" cy="1038.800" r="3.300" fill="#e03a24" stroke="#a82010" stroke-width=".5"/><path d="M1447 1037.200l3.200 3.200m0-3.200l-3.200 3.200" stroke="#fff" stroke-width="1.200"/><rect x="1454.300" y="1027" width="15.600" height="15" rx="1.200" fill="#e8761e" stroke="#c85c10" stroke-width=".7"/><path d="M1458 1037.600h7.600M1459 1039.600h6M1462.800 1029.400c-2.400 2.200 1.800 3 -.6 5.800M1465.800 1036c1.800-.6 1.800 1.800-.4 2" stroke="#fff" stroke-width="1.100" fill="none"/><path d="M1479.500 1027.500c2 1.400 4 1.800 6 1.800 0 6-1.500 9.500-6 12-4.500-2.500-6-6-6-12 2 0 4-.4 6-1.800z" fill="#f4d81c" stroke="#4a5a9a" stroke-width=".9"/><path d="M1479.500 1031v5.500" stroke="#222" stroke-width="1.700"/><circle cx="1479.500" cy="1038.600" r="1" fill="#222"/><path d="M1491.500 1030c0-2 1.500-2.500 3-2.500h8c1.500 0 3 .5 3 2.500v5c0 2-1.500 2.500-3 2.500h-3l-2.500 3v-3h-2.500c-1.500 0-3-.5-3-2.500z" fill="#f6f2f2" stroke="#c83838" stroke-width=".9"/><path d="M1493.500 1037v-7l5 4.500 5-4.500v7" stroke="#d83030" stroke-width="1.700" fill="none"/><path d="M1508 1042v-6.500l4.500-3.500h6.500l4.500 3.500v6.500z" fill="#f29a14" stroke="#c87808" stroke-width=".6"/><path d="M1515.500 1032v-5.500" stroke="#a06008" stroke-width="1.100"/><path d="M1515.800 1026.500h5.500l-1.200 1.500 1.200 1.600h-5.500z" fill="#f6c020"/><path d="M1515.600 1034.500v3.600" stroke="#fff" stroke-width="1.500"/><circle cx="1515.600" cy="1040" r=".9" fill="#fff"/><ellipse cx="1534.500" cy="1038.500" rx="7" ry="3" fill="#e8e0f4" stroke="#8a5ab8" stroke-width=".9"/><path d="M1528.500 1032.500c2-2 10-2 12 0l-1 5.500c-3 1.200-7 1.200-10 0z" fill="#7a3aa8" stroke="#5a2888" stroke-width=".6"/><path d="M1530.500 1034h3M1536 1034h3M1534.700 1035v3.500" stroke="#e8d8f8" stroke-width="1"/><circle cx="1551.500" cy="1033.500" r="5.800" fill="#767e8c" stroke="#3c4454" stroke-width=".8"/><circle cx="1550.600" cy="1032.500" r="2.600" fill="#3a6a4a"/><path d="M1546.500 1031.500c1-3 4-4.500 7-3.500M1549 1038.500c3 1 6-.5 7-3" stroke="#e8ecf0" stroke-width="1" fill="none"/><path d="M1554 1042.500l5-7" stroke="#9cc4f4" stroke-width=".8"/><path d="M1563 1033c0-4 2.500-6 6.500-6h8v7c0 4.500-2.500 7.500-7.500 7.500h-7z" fill="#2f8f3c"/><path d="M1565 1033.500c0-2.800 1.800-4.500 4.800-4.500h5.700v5.200c0 3.200-2 5.300-5.500 5.300h-5z" fill="#c8f078"/><circle cx="1570" cy="1034.300" r="3.300" fill="#7cc83a"/><circle cx="1570" cy="1034.300" r="1.300" fill="#1c4c1c"/><rect x="1580.600" y="1027.200" width="14.600" height="15" fill="#fbf6ee" stroke="#ee8c2c" stroke-width="1.200"/><path d="M1595.300 1027v15.500M1580.500 1042.300h15" stroke="#15151c" stroke-width="1.200"/><path d="M1583.600 1032.800v-3l1.800 2 1.800-2v3M1588.600 1029.800l3.400 3M1592 1029.800l-3.400 3" stroke="#2a4aa8" stroke-width="1" fill="none"/><path d="M1582.500 1036.500h10" stroke="#f0a050" stroke-width="1.600"/><path d="M1583 1040h9" stroke="#ee8c2c" stroke-width="1.600"/><rect x="1606" y="1030" width="8" height="9.600" fill="#74b81c"/><path d="M1598.500 1035c3-4.500 8.500-5 11.500-2.500-1 4-6 6-11.500 2.500z" fill="none" stroke="#74b81c" stroke-width="1.300"/><circle cx="1605" cy="1034.600" r="1.700" fill="none" stroke="#9cd63c" stroke-width="1"/><path d="M1625 1029h5.500v8h-5.500zM1624 1039.500h7.500" stroke="#10101c" stroke-width="1.200" fill="#2a58c8"/><circle cx="1627" cy="1028.500" r="1.600" fill="#3ab8d0"/><text x="1617.300" y="1038.500" font-size="12" font-weight="bold" fill="#0a0ae0" letter-spacing="-.8">Pc</text></svg>
</div>
<div id="clock" class="abs">05:34</div>
</div>
</body></html>
